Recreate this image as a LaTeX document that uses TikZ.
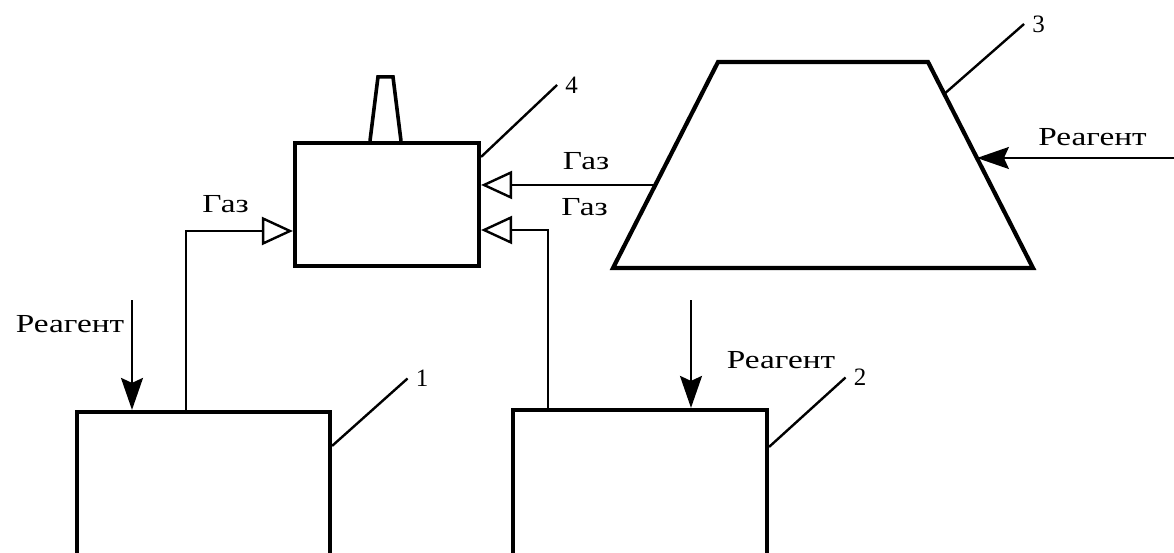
\documentclass[tikz,border=0pt]{standalone}
\usepackage{fontspec}
\setmainfont{Liberation Serif}
\usepackage{graphicx}
\usetikzlibrary{arrows.meta,positioning,calc}
\newcommand{\wtext}[1]{\scalebox{1.28}[1]{#1}}

\begin{document}
\begin{tikzpicture}[
  x=1pt, y=-1pt,
  vessel/.style={draw=black, line width=4.2pt, inner sep=0pt},
  gas/.style={-{Triangle[open, length=31pt, width=28pt]}, line width=2.4pt},
  feed/.style={-{Stealth[length=32pt, width=22pt, inset=5pt]}, line width=2pt},
  lead/.style={line width=2.4pt},
  lbl/.style={font=\fontsize{26}{30}\selectfont, inner sep=0pt},
  num/.style={font=\fontsize{25}{30}\selectfont, inner xsep=8pt, inner ysep=2pt}
]
  \useasboundingbox (0,0) rectangle (1174,553);
  % Vessels 1, 2, 4
  \node[vessel, minimum width=253pt, minimum height=188pt] (box1) at (203.5,506) {};
  \node[vessel, minimum width=254pt, minimum height=190pt] (box2) at (640,505) {};
  \node[vessel, minimum width=184pt, minimum height=123pt] (box4) at (387,204.5) {};
  % Reactor 3
  \draw[vessel] (613,268) coordinate (tr-bl) -- (718,62) coordinate (tr-tl)
    -- (928,62) coordinate (tr-tr) -- (1033,268) coordinate (tr-br) -- cycle;
  % Chimney
  \draw[vessel, line width=3.6pt] ([xshift=-17pt]box4.north) -- ++(8,-64) -- ++(15,0) -- ([xshift=14pt]box4.north);
  % Gas lines
  \coordinate (g3) at ($(tr-bl)!0.403!(tr-tl)$);
  \draw[gas] (g3) -- (g3 -| box4.east);
  \draw[gas] ([xshift=111pt]box1.north west) |- ([yshift=-26.5pt]box4.west);
  \draw[gas] ([xshift=37pt]box2.north west) |- ([yshift=-25.5pt]box4.east);
  % Reagent feeds
  \coordinate (r1) at (132,300);
  \coordinate (r2) at (691,300);
  \coordinate (r3) at (1174,158);
  \coordinate (r3in) at ($(tr-br)!0.534!(tr-tr)$);
  \draw[feed] (r1) -- (r1 |- box1.north);
  \draw[feed] (r2) -- (r2 |- box2.north);
  \draw[feed] (r3 |- r3in) -- (r3in);
  % Labels
  \node[lbl] (gas1) at (225.5,204) {\wtext{Газ}};
  \node[lbl] (gas3) at (586,161) {\wtext{Газ}};
  \node[lbl] (gas2) at (584.5,207.5) {\wtext{Газ}};
  \node[lbl] (re1) at (70,324) {\wtext{Реагент}};
  \node[lbl] (re2) at (781,360.5) {\wtext{Реагент}};
  \node[lbl] (re3) at (1092.5,137.5) {\wtext{Реагент}};
  % Position numbers
  \node[num] (n1) at (422,378.5) {1};
  \node[num] (n2) at (860,377.5) {2};
  \node[num] (n3) at (1038.5,24) {3};
  \node[num] (n4) at (571.5,85) {4};
  \draw[lead] ([yshift=-36pt]box1.north east) -- (n1.west);
  \draw[lead] ([yshift=-39pt]box2.north east) -- (n2.west);
  \draw[lead] ($(tr-br)!0.845!(tr-tr)$) -- (n3.west);
  \draw[lead] ([yshift=-16pt]box4.north east) -- (n4.west);
\end{tikzpicture}
\end{document}
